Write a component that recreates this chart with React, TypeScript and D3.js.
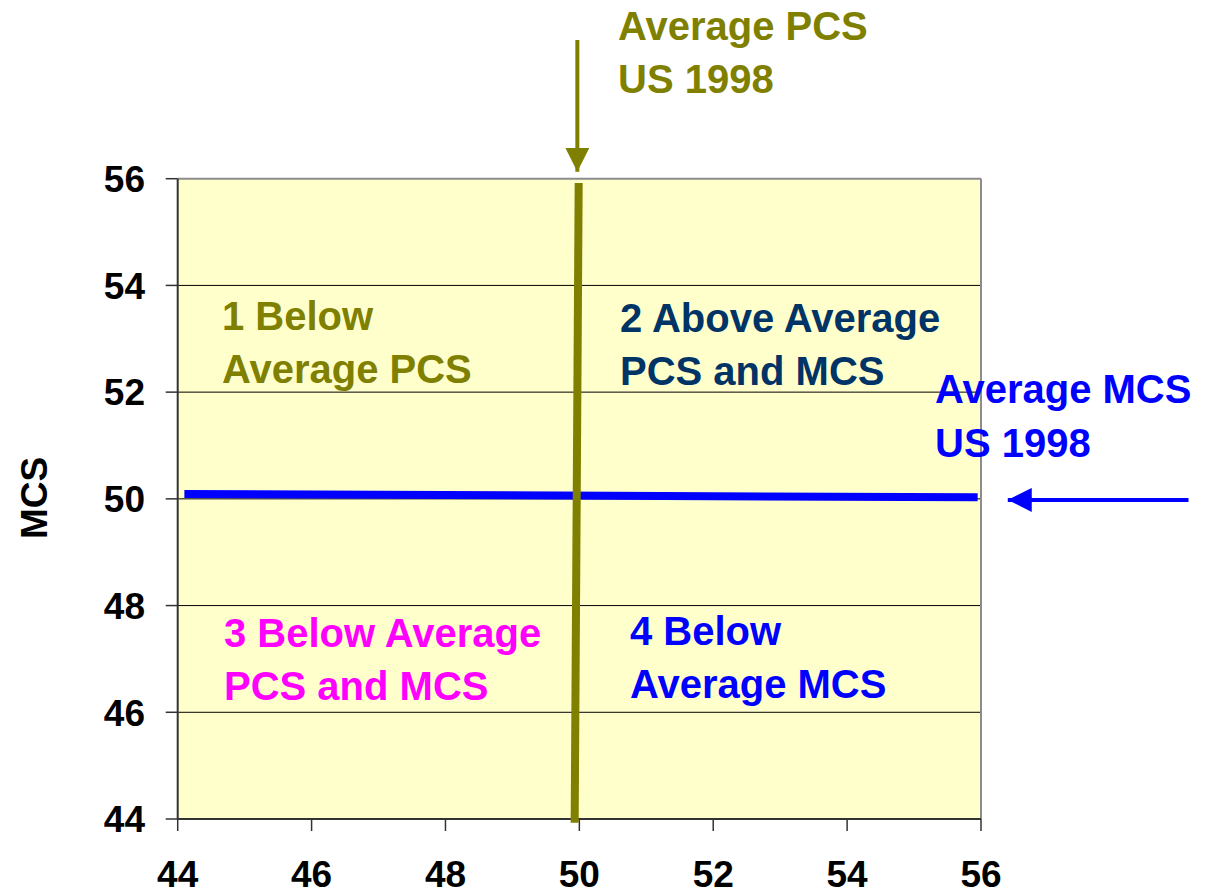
import React from 'react';
import { scaleLinear, line } from 'd3';

const xTicks = [44, 46, 48, 50, 52, 54, 56];
const yTicks = [44, 46, 48, 50, 52, 54, 56];

// average PCS reference line (drawn slightly off-vertical in the original)
const pcsLine = [
  { pcs: 49.99, mcs: 55.92 },
  { pcs: 49.93, mcs: 43.93 },
];
// average MCS reference line
const mcsLine = [
  { pcs: 44.1, mcs: 50.09 },
  { pcs: 55.95, mcs: 50.03 },
];
// pointer arrows (tail -> head)
const pcsArrow = [
  { pcs: 49.97, mcs: 58.6 },
  { pcs: 49.97, mcs: 56.13 },
];
const mcsArrow = [
  { pcs: 59.1, mcs: 49.98 },
  { pcs: 56.4, mcs: 49.98 },
];

const quadrantLabels = [
  { lines: ['1 Below', 'Average PCS'], color: '#808000' },
  { lines: ['2 Above Average', 'PCS and MCS'], color: '#003366' },
  { lines: ['3 Below Average', 'PCS and MCS'], color: '#FF00FF' },
  { lines: ['4 Below', 'Average MCS'], color: '#0000FF' },
];

const W = 1205;
const H = 895;
const margin = { top: 178.7, right: 224, bottom: 76, left: 177.7 };
const FONT = 'Arial, "Liberation Sans", Helvetica, sans-serif';

export default function App() {
  const x = scaleLinear().domain([44, 56]).range([margin.left, W - margin.right]);
  const y = scaleLinear().domain([44, 56]).range([H - margin.bottom, margin.top]);
  const path = line<{ pcs: number; mcs: number }>()
    .x(d => x(d.pcs))
    .y(d => y(d.mcs));

  const x0 = x(44), x1 = x(56), y0 = y(44), y1 = y(56);
  const labelPos = [
    { x: 222, y: 330 },
    { x: 620, y: 332 },
    { x: 224, y: 647 },
    { x: 630, y: 645 },
  ];

  return (
    <svg width={W} height={H} style={{ position: 'absolute', left: 0, top: 0, background: '#fff' }}
      fontFamily={FONT} fontWeight="bold">
      <defs>
        <marker id="headOlive" viewBox="0 0 10 10" refX="10" refY="5" markerWidth="6" markerHeight="6"
          markerUnits="strokeWidth" orient="auto">
          <path d="M0,0 L10,5 L0,10 z" fill="#808000" />
        </marker>
        <marker id="headBlue" viewBox="0 0 10 10" refX="10" refY="5" markerWidth="6" markerHeight="6"
          markerUnits="strokeWidth" orient="auto">
          <path d="M0,0 L10,5 L0,10 z" fill="#0000FF" />
        </marker>
      </defs>

      <rect x={x0} y={y1} width={x1 - x0} height={y0 - y1} fill="#FFFFCC" />

      {yTicks.filter(t => t !== 44 && t !== 56).map(t => (
        <line key={t} x1={x0} x2={x1} y1={y(t)} y2={y(t)} stroke="#000" strokeWidth={1} />
      ))}

      <line x1={x0} x2={x1} y1={y1} y2={y1} stroke="#8c8c8c" strokeWidth={2} />
      <line x1={x1} x2={x1} y1={y1} y2={y0} stroke="#8c8c8c" strokeWidth={2} />
      <line x1={x0} x2={x0} y1={y1} y2={y0} stroke="#333" strokeWidth={2} />
      <line x1={x0} x2={x1} y1={y0} y2={y0} stroke="#333" strokeWidth={2} />

      {yTicks.map(t => (
        <g key={t}>
          <line x1={x0 - 12} x2={x0} y1={y(t)} y2={y(t)} stroke="#333" strokeWidth={1.5} />
          <text x={145} y={y(t)} dy="0.36em" textAnchor="end" fontSize={37} fill="#000">{t}</text>
        </g>
      ))}
      {xTicks.map(t => (
        <g key={t}>
          <line x1={x(t)} x2={x(t)} y1={y0} y2={y0 + 12} stroke="#333" strokeWidth={1.5} />
          <text x={x(t)} y={887} textAnchor="middle" fontSize={37} fill="#000">{t}</text>
        </g>
      ))}

      <text transform="translate(47,498) rotate(-90)" textAnchor="middle" fontSize={37} fill="#000">MCS</text>

      {quadrantLabels.map((q, i) => (
        <text key={i} x={labelPos[i].x} y={labelPos[i].y} fontSize={40} fill={q.color}>
          {q.lines.map((l, j) => (
            <tspan key={j} x={labelPos[i].x} dy={j === 0 ? 0 : 53}>{l}</tspan>
          ))}
        </text>
      ))}

      <path d={path(mcsLine) ?? ''} stroke="#0000FF" strokeWidth={8} fill="none" />
      <path d={path(pcsLine) ?? ''} stroke="#808000" strokeWidth={8} fill="none" />

      <path d={path(pcsArrow) ?? ''} stroke="#808000" strokeWidth={4} fill="none" markerEnd="url(#headOlive)" />
      <path d={path(mcsArrow) ?? ''} stroke="#0000FF" strokeWidth={4} fill="none" markerEnd="url(#headBlue)" />

      <text x={618} y={40} fontSize={40} fill="#808000">
        <tspan x={618}>Average PCS</tspan>
        <tspan x={618} dy={53}>US 1998</tspan>
      </text>
      <text x={935} y={403} fontSize={40} fill="#0000FF">
        <tspan x={935}>Average MCS</tspan>
        <tspan x={935} dy={54}>US 1998</tspan>
      </text>
    </svg>
  );
}
